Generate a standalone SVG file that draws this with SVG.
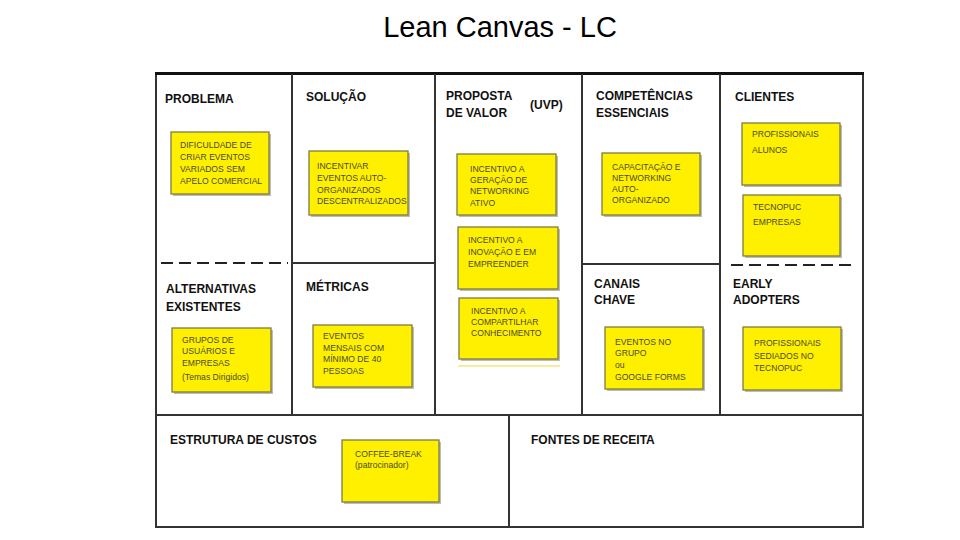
<svg xmlns="http://www.w3.org/2000/svg" width="960" height="540" viewBox="0 0 960 540">
<style>
.title{font-family:"Liberation Sans",Arial,sans-serif;font-size:29px;fill:#000}
.hd{font-family:"Liberation Sans",Arial,sans-serif;font-size:12px;font-weight:bold;fill:#111}
.nt{font-family:"Liberation Sans",Arial,sans-serif;font-size:8.6px;fill:#4a4a30}
.note{fill:#FFF000;stroke:#7d7b45;stroke-width:1.3}
.shadow{fill:#bdbdb0}
.grid{stroke:#333;stroke-width:2;fill:none}
.dash{stroke:#222;stroke-width:2;stroke-dasharray:12 6;fill:none}
</style>
<rect width="960" height="540" fill="#fff"/>
<text class="title" x="500" y="37" text-anchor="middle">Lean Canvas - LC</text>

<g id="canvas-grid">
<rect class="grid" x="156" y="74" width="707" height="453"/>
<line x1="155" y1="73.5" x2="864" y2="73.5" stroke="#111" stroke-width="3"/>
<line class="grid" x1="292" y1="74" x2="292" y2="415"/>
<line class="grid" x1="435" y1="74" x2="435" y2="415"/>
<line class="grid" x1="582" y1="74" x2="582" y2="415"/>
<line class="grid" x1="720" y1="74" x2="720" y2="415"/>
<line class="grid" x1="292" y1="263" x2="435" y2="263"/>
<line class="grid" x1="582" y1="264" x2="720" y2="264"/>
<line class="grid" x1="156" y1="415" x2="863" y2="415"/>
<line class="grid" x1="509" y1="415" x2="509" y2="527"/>
<line class="dash" x1="161" y1="263" x2="288" y2="263"/>
<line class="dash" x1="731" y1="265" x2="856" y2="265"/>
</g>

<g id="problema">
<text class="hd" x="165" y="103">PROBLEMA</text>
<rect class="shadow" x="173" y="134" width="98" height="62"/>
<rect class="note" x="171" y="132" width="98" height="62"/>
<text class="nt"><tspan x="180" y="148">DIFICULDADE  DE</tspan><tspan x="180" y="160">CRIAR EVENTOS</tspan><tspan x="180" y="172">VARIADOS SEM</tspan><tspan x="180" y="184">APELO COMERCIAL</tspan></text>
</g>

<g id="alternativas">
<text class="hd"><tspan x="166" y="293">ALTERNATIVAS</tspan><tspan x="166" y="311">EXISTENTES</tspan></text>
<rect class="shadow" x="174" y="330" width="99" height="64"/>
<rect class="note" x="172" y="328" width="99" height="64"/>
<text class="nt"><tspan x="182" y="343">GRUPOS DE</tspan><tspan x="182" y="354">USUÁRIOS E</tspan><tspan x="182" y="366">EMPRESAS</tspan><tspan x="182" y="380">(Temas Dirigidos)</tspan></text>
</g>

<g id="solucao">
<text class="hd" x="306" y="101">SOLUÇÃO</text>
<rect class="shadow" x="311" y="153" width="99" height="64"/>
<rect class="note" x="309" y="151" width="99" height="64"/>
<text class="nt"><tspan x="317" y="169">INCENTIVAR</tspan><tspan x="317" y="181">EVENTOS AUTO-</tspan><tspan x="317" y="193">ORGANIZADOS</tspan><tspan x="317" y="204">DESCENTRALIZADOS</tspan></text>
</g>

<g id="metricas">
<text class="hd" x="306" y="291">MÉTRICAS</text>
<rect class="shadow" x="315" y="327" width="99" height="62"/>
<rect class="note" x="313" y="325" width="99" height="62"/>
<text class="nt"><tspan x="323" y="339">EVENTOS</tspan><tspan x="323" y="351">MENSAIS COM</tspan><tspan x="323" y="362">MÍNIMO DE 40</tspan><tspan x="323" y="374">PESSOAS</tspan></text>
</g>

<g id="proposta-valor">
<text class="hd"><tspan x="446" y="100">PROPOSTA</tspan><tspan x="446" y="117">DE VALOR</tspan></text>
<text class="hd" x="530" y="109">(UVP)</text>
</g>

<g id="uvp-networking">
<rect class="shadow" x="459" y="156" width="99" height="61"/>
<rect class="note" x="457" y="154" width="99" height="61"/>
<text class="nt"><tspan x="470" y="172">INCENTIVO A</tspan><tspan x="470" y="183">GERAÇÃO DE</tspan><tspan x="470" y="194">NETWORKING</tspan><tspan x="470" y="206">ATIVO</tspan></text>
</g>

<g id="uvp-inovacao">
<rect class="shadow" x="460" y="229" width="100" height="62"/>
<rect class="note" x="458" y="227" width="100" height="62"/>
<text class="nt"><tspan x="468" y="243">INCENTIVO A</tspan><tspan x="468" y="255">INOVAÇÃO E EM</tspan><tspan x="468" y="267">EMPREENDER</tspan></text>
</g>

<g id="uvp-conhecimento">
<rect class="shadow" x="461" y="300" width="99" height="61"/>
<rect class="note" x="459" y="298" width="99" height="61"/>
<text class="nt"><tspan x="471" y="314">INCENTIVO A</tspan><tspan x="471" y="325">COMPARTILHAR</tspan><tspan x="471" y="336">CONHECIMENTO</tspan></text>
<line x1="458" y1="366" x2="560" y2="366" stroke="#f6ee9c" stroke-width="2"/>
</g>

<g id="competencias">
<text class="hd"><tspan x="596" y="100">COMPETÊNCIAS</tspan><tspan x="596" y="117">ESSENCIAIS</tspan></text>
<rect class="shadow" x="604" y="155" width="98" height="62"/>
<rect class="note" x="602" y="153" width="98" height="62"/>
<text class="nt"><tspan x="612" y="170">CAPACITAÇÃO E</tspan><tspan x="612" y="181">NETWORKING</tspan><tspan x="612" y="192">AUTO-</tspan><tspan x="612" y="203">ORGANIZADO</tspan></text>
</g>

<g id="canais">
<text class="hd"><tspan x="594" y="288">CANAIS</tspan><tspan x="594" y="304">CHAVE</tspan></text>
<rect class="shadow" x="607" y="329" width="98" height="62"/>
<rect class="note" x="605" y="327" width="98" height="62"/>
<text class="nt"><tspan x="615" y="345">EVENTOS NO</tspan><tspan x="615" y="356">GRUPO</tspan><tspan x="615" y="368">ou</tspan><tspan x="615" y="380">GOOGLE FORMS</tspan></text>
</g>

<g id="clientes">
<text class="hd" x="735" y="101">CLIENTES</text>
</g>

<g id="clientes-profissionais">
<rect class="shadow" x="744" y="125" width="98" height="62"/>
<rect class="note" x="742" y="123" width="98" height="62"/>
<text class="nt"><tspan x="752" y="137">PROFISSIONAIS</tspan><tspan x="752" y="153">ALUNOS</tspan></text>
</g>

<g id="clientes-tecnopuc">
<rect class="shadow" x="745" y="197" width="97" height="61"/>
<rect class="note" x="743" y="195" width="97" height="61"/>
<text class="nt"><tspan x="753" y="210">TECNOPUC</tspan><tspan x="753" y="225">EMPRESAS</tspan></text>
</g>

<g id="early-adopters">
<text class="hd"><tspan x="733" y="288">EARLY</tspan><tspan x="733" y="304">ADOPTERS</tspan></text>
<rect class="shadow" x="745" y="329" width="98" height="63"/>
<rect class="note" x="743" y="327" width="98" height="63"/>
<text class="nt"><tspan x="754" y="346">PROFISSIONAIS</tspan><tspan x="754" y="359">SEDIADOS NO</tspan><tspan x="754" y="371">TECNOPUC</tspan></text>
</g>

<g id="estrutura-custos">
<text class="hd" x="170" y="444">ESTRUTURA DE CUSTOS</text>
<rect class="shadow" x="344" y="442" width="97" height="62"/>
<rect class="note" x="342" y="440" width="97" height="62"/>
<text class="nt"><tspan x="355" y="457">COFFEE-BREAK</tspan><tspan x="355" y="468">(patrocinador)</tspan></text>
</g>

<g id="fontes-receita">
<text class="hd" x="531" y="444">FONTES DE RECEITA</text>
</g>
</svg>
